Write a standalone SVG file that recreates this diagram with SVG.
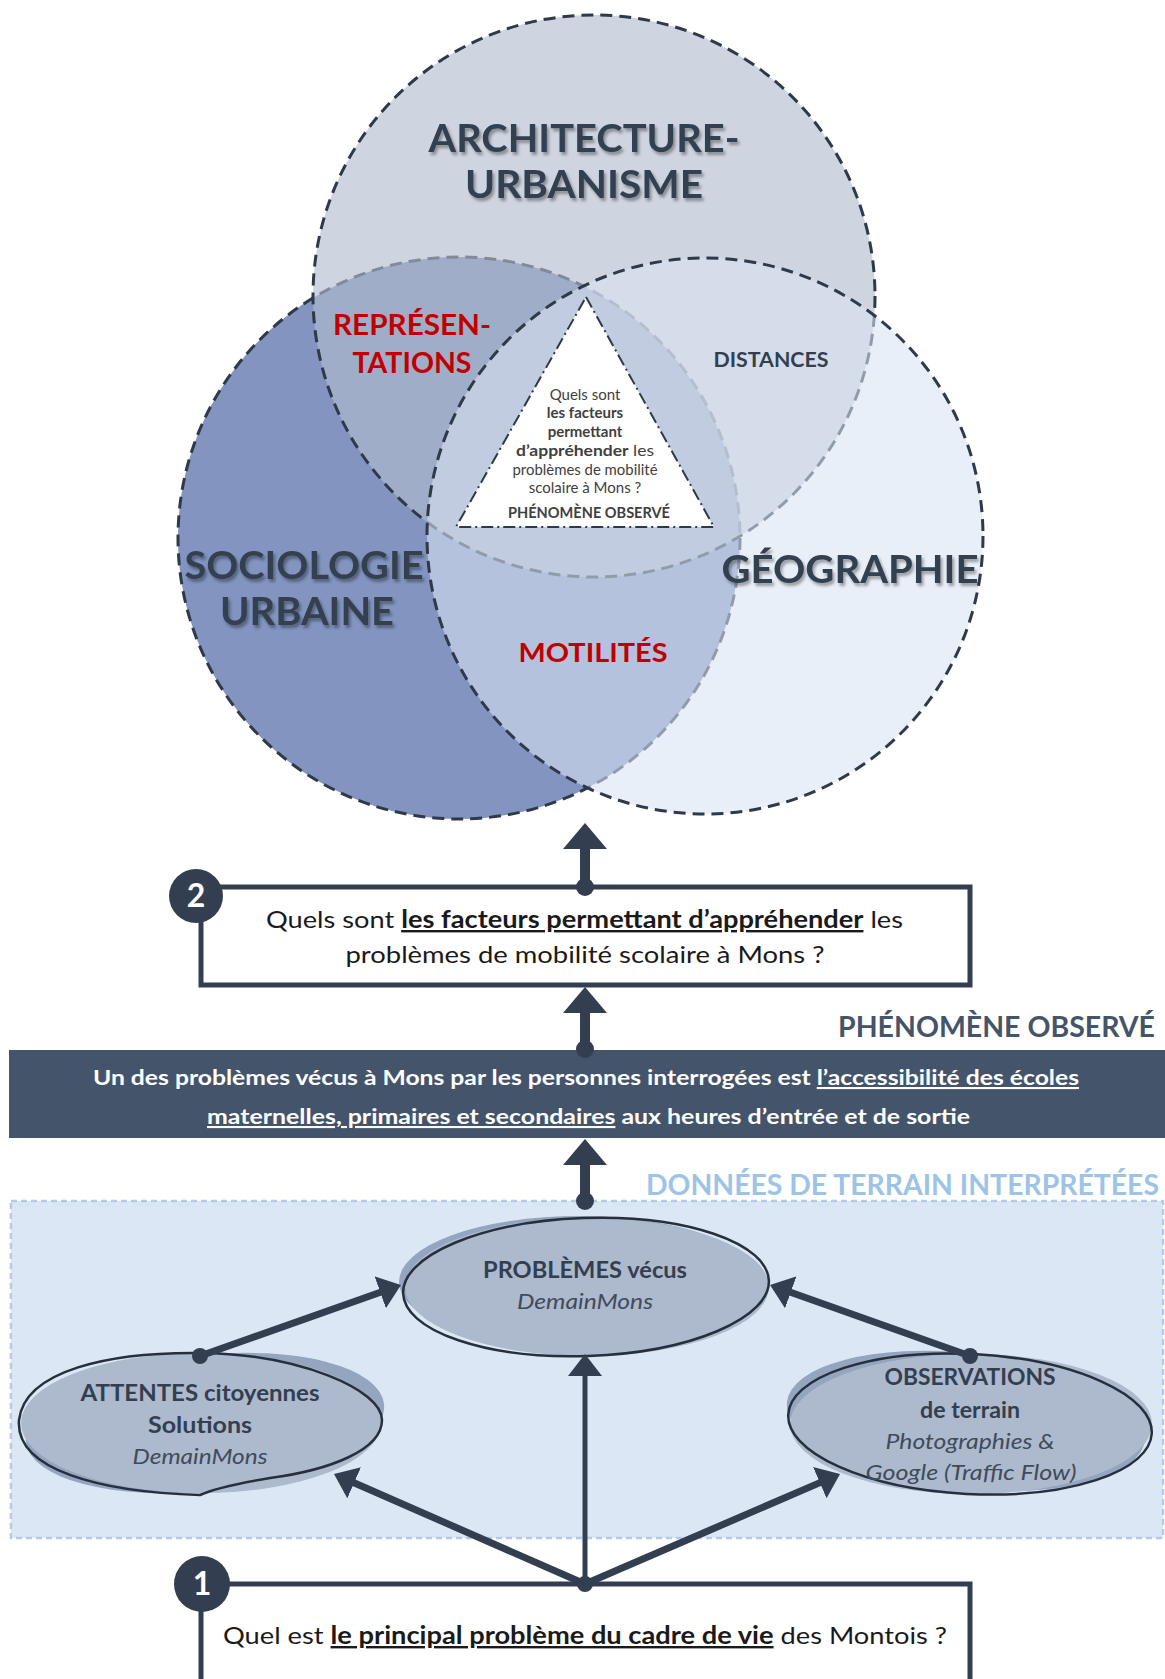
<svg xmlns="http://www.w3.org/2000/svg" width="1165" height="1679" viewBox="0 0 1165 1679">
<defs>
<style>
text{font-family:Lato,"Open Sans","Liberation Sans",sans-serif}
.big{font-weight:700;fill:#333f50;filter:url(#sh)}
.red{font-weight:700;fill:#c00000}
.dk{font-weight:700;fill:#333f50}
.tri{font-size:15px;fill:#404040}
.b{font-weight:700}
.venn{stroke:#2e3949;stroke-width:3;stroke-dasharray:12 7}
.shaft{stroke:#333f50;fill:none}
.dot{fill:#333f50}
.box{fill:#fff;stroke:#333f50;stroke-width:5}
.num{fill:#333f50}
.numt{fill:#fff;font-weight:700;font-size:32px}
.ellsh{fill:#95a4bf}
.ell{fill:#adb9cc}
.ells{fill:none;stroke:#262f3d;stroke-width:2.5}
.et{font-size:22px;fill:#333f50}
.it{font-style:italic;font-weight:400;fill:#404b5c}
.q{font-size:24px;fill:#1a1a1a}
</style>
<filter id="sh" x="-10%" y="-20%" width="120%" height="150%">
<feDropShadow dx="2" dy="3" stdDeviation="1.8" flood-color="#000" flood-opacity="0.35"/>
</filter>
<marker id="headL" viewBox="0 0 26 44" markerWidth="26" markerHeight="44" refX="6" refY="22" orient="auto" markerUnits="userSpaceOnUse">
<path d="M0,0 L26,22 L0,44 Z" fill="#333f50"/>
</marker>
<marker id="headS" viewBox="0 0 22 34" markerWidth="22" markerHeight="34" refX="4" refY="17" orient="auto" markerUnits="userSpaceOnUse">
<path d="M0,0 L22,17 L0,34 Z" fill="#333f50"/>
</marker>
</defs>
<rect width="1165" height="1679" fill="#fff"/>

<g id="venn">
<g id="circle-sociologie">
<circle cx="459" cy="538" r="281" fill="#8294bf" class="venn"/>
</g>
<g id="circle-architecture">
<circle cx="594" cy="296" r="281" fill="#b2bccd" fill-opacity="0.625" class="venn"/>
</g>
<g id="circle-geographie">
<circle cx="705" cy="536" r="278" fill="#d9e4f3" fill-opacity="0.58" class="venn"/>
</g>
<g id="triangle-phenomene">
<path d="M586,297 L714,527 L456,527 Z" fill="#fff" stroke="#2e3949" stroke-width="2" stroke-dasharray="12 4 2 4"/>
<text class="tri" x="585" y="400" text-anchor="middle">Quels sont</text>
<text class="tri b" x="585" y="418" text-anchor="middle">les facteurs</text>
<text class="tri b" x="585" y="437" text-anchor="middle">permettant</text>
<text class="tri" x="585" y="456" text-anchor="middle" textLength="138" lengthAdjust="spacingAndGlyphs"><tspan class="b">d’appréhender</tspan> les</text>
<text class="tri" x="585" y="475" text-anchor="middle" textLength="145" lengthAdjust="spacingAndGlyphs">problèmes de mobilité</text>
<text class="tri" x="585" y="493" text-anchor="middle">scolaire à Mons ?</text>
<text class="tri b" x="589" y="518" text-anchor="middle" textLength="162" lengthAdjust="spacingAndGlyphs" fill="#262626">PHÉNOMÈNE OBSERVÉ</text>
</g>
<text class="big" x="584" y="152" font-size="39" text-anchor="middle" textLength="311" lengthAdjust="spacingAndGlyphs">ARCHITECTURE-</text>
<text class="big" x="584" y="198" font-size="39" text-anchor="middle" textLength="238" lengthAdjust="spacingAndGlyphs">URBANISME</text>
<text class="red" x="412" y="335" font-size="28" text-anchor="middle" textLength="158" lengthAdjust="spacingAndGlyphs">REPRÉSEN-</text>
<text class="red" x="412" y="373" font-size="28" text-anchor="middle" textLength="119" lengthAdjust="spacingAndGlyphs">TATIONS</text>
<text class="dk" x="771" y="367" font-size="21" text-anchor="middle" textLength="115" lengthAdjust="spacingAndGlyphs">DISTANCES</text>
<text class="big" x="304" y="579" font-size="39" text-anchor="middle" textLength="239" lengthAdjust="spacingAndGlyphs">SOCIOLOGIE</text>
<text class="big" x="307" y="625" font-size="39" text-anchor="middle" textLength="174" lengthAdjust="spacingAndGlyphs">URBAINE</text>
<text class="big" x="850" y="583" font-size="39" text-anchor="middle" textLength="257" lengthAdjust="spacingAndGlyphs">GÉOGRAPHIE</text>
<text class="red" x="593" y="662" font-size="26" text-anchor="middle" textLength="149" lengthAdjust="spacingAndGlyphs">MOTILITÉS</text>
</g>

<g id="question-2">
<rect class="box" x="201" y="887" width="769" height="98"/>
<text class="q" x="266" y="928" textLength="637" lengthAdjust="spacingAndGlyphs">Quels sont <tspan class="b" text-decoration="underline">les facteurs permettant d’appréhender</tspan> les</text>
<text class="q" x="585" y="963" text-anchor="middle" textLength="479" lengthAdjust="spacingAndGlyphs">problèmes de mobilité scolaire à Mons ?</text>
<circle class="num" cx="196" cy="896" r="27"/>
<text class="numt" x="196" y="907" text-anchor="middle">2</text>
</g>

<g id="phenomene-observe">
<text x="1155" y="1037" font-size="28" font-weight="700" text-anchor="end" fill="#44546a" textLength="317" lengthAdjust="spacingAndGlyphs">PHÉNOMÈNE OBSERVÉ</text>
<rect x="9" y="1050" width="1160" height="88" fill="#44546a"/>
<text x="93" y="1085" font-size="21" font-weight="700" fill="#fff" textLength="986" lengthAdjust="spacingAndGlyphs">Un des problèmes vécus à Mons par les personnes interrogées est <tspan text-decoration="underline">l’accessibilité des écoles</tspan></text>
<text x="207" y="1124" font-size="21" font-weight="700" fill="#fff" textLength="763" lengthAdjust="spacingAndGlyphs"><tspan text-decoration="underline">maternelles, primaires et secondaires</tspan> aux heures d’entrée et de sortie</text>
</g>

<g id="donnees-terrain">
<text x="1159" y="1195" font-size="28" font-weight="700" fill="#9dc3e6" text-anchor="end" textLength="513" lengthAdjust="spacingAndGlyphs">DONNÉES DE TERRAIN INTERPRÉTÉES</text>
<rect x="11" y="1201" width="1152" height="337" fill="#dce7f5" stroke="#b3cbe8" stroke-width="2.5" stroke-dasharray="6 4"/>
</g>

<g id="node-problemes">
<ellipse class="ellsh" cx="579" cy="1282" rx="180" ry="66"/>
<ellipse class="ell" cx="587" cy="1287" rx="182" ry="69"/>
<ellipse class="ells" cx="586" cy="1287" rx="183" ry="69" transform="rotate(-2 586 1287)"/>
<text class="et b" x="585" y="1278" text-anchor="middle" textLength="204" lengthAdjust="spacingAndGlyphs">PROBLÈMES vécus</text>
<text class="et it" x="585" y="1309" text-anchor="middle" textLength="136" lengthAdjust="spacingAndGlyphs">DemainMons</text>
</g>

<g id="node-attentes">
<ellipse class="ellsh" cx="205" cy="1423" rx="180" ry="68" transform="rotate(-6 205 1423)"/>
<ellipse class="ell" cx="201" cy="1423" rx="180" ry="70"/>
<path class="ells" d="M19,1420 C25,1370 110,1352 200,1353 C300,1354 382,1390 382,1420 C382,1450 330,1470 270,1478 C240,1483 215,1488 200,1495 C100,1492 15,1470 19,1420 Z"/>
<text class="et b" x="200" y="1401" text-anchor="middle" textLength="239" lengthAdjust="spacingAndGlyphs">ATTENTES citoyennes</text>
<text class="et b" x="200" y="1433" text-anchor="middle" textLength="104" lengthAdjust="spacingAndGlyphs">Solutions</text>
<text class="et it" x="200" y="1464" text-anchor="middle" textLength="135" lengthAdjust="spacingAndGlyphs">DemainMons</text>
</g>

<g id="node-observations">
<ellipse class="ellsh" cx="966" cy="1421" rx="180" ry="68" transform="rotate(6 966 1421)"/>
<ellipse class="ell" cx="971" cy="1424" rx="181" ry="70"/>
<ellipse class="ells" cx="970" cy="1424" rx="182" ry="70" transform="rotate(3 970 1424)"/>
<text class="et b" x="970" y="1385" text-anchor="middle" textLength="171" lengthAdjust="spacingAndGlyphs">OBSERVATIONS</text>
<text class="et b" x="970" y="1418" text-anchor="middle" textLength="100" lengthAdjust="spacingAndGlyphs">de terrain</text>
<text class="et it" x="970" y="1449" text-anchor="middle" textLength="169" lengthAdjust="spacingAndGlyphs">Photographies &amp;</text>
<text class="et it" x="971" y="1480" text-anchor="middle" textLength="211" lengthAdjust="spacingAndGlyphs">Google (Traffic Flow)</text>
</g>

<g id="question-1">
<rect class="box" x="201" y="1584" width="769" height="200"/>
<text class="q" x="223" y="1644" textLength="724" lengthAdjust="spacingAndGlyphs">Quel est <tspan class="b" text-decoration="underline">le principal problème du cadre de vie</tspan> des Montois ?</text>
<circle class="num" cx="202" cy="1584" r="28"/>
<text class="numt" x="202" y="1595" text-anchor="middle">1</text>
</g>

<g id="connectors">
<line class="shaft" x1="585" y1="887" x2="585" y2="843" stroke-width="10" marker-end="url(#headL)"/>
<circle class="dot" cx="585" cy="887" r="9"/>
<line class="shaft" x1="585" y1="1049" x2="585" y2="1007" stroke-width="10" marker-end="url(#headL)"/>
<circle class="dot" cx="585" cy="1049" r="9"/>
<line class="shaft" x1="585" y1="1201" x2="585" y2="1159" stroke-width="10" marker-end="url(#headL)"/>
<circle class="dot" cx="585" cy="1201" r="9"/>
<line class="shaft" x1="200" y1="1356" x2="384" y2="1291" stroke-width="7" marker-end="url(#headS)"/>
<circle class="dot" cx="200" cy="1356" r="8"/>
<line class="shaft" x1="970" y1="1356" x2="787" y2="1291" stroke-width="7" marker-end="url(#headS)"/>
<circle class="dot" cx="970" cy="1356" r="8"/>
<line class="shaft" x1="585" y1="1584" x2="585" y2="1372" stroke-width="5" marker-end="url(#headS)"/>
<line class="shaft" x1="585" y1="1584" x2="350.5" y2="1481.2" stroke-width="7" marker-end="url(#headS)"/>
<line class="shaft" x1="585" y1="1584" x2="823.5" y2="1481.1" stroke-width="7" marker-end="url(#headS)"/>
<circle class="dot" cx="585" cy="1584" r="8"/>
</g>
</svg>
